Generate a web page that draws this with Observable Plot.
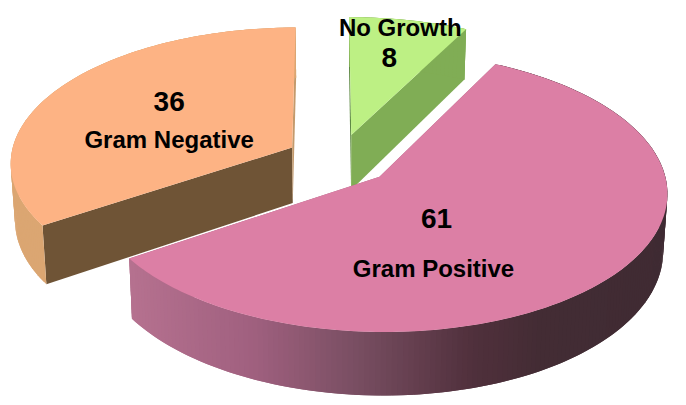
<!DOCTYPE html>
<html>
<head>
<meta charset="utf-8">
<script src="https://cdn.jsdelivr.net/npm/d3@7"></script>
<script src="https://cdn.jsdelivr.net/npm/@observablehq/plot@0.6"></script>
<style>html,body{margin:0;padding:0;background:#fff}svg{display:block}</style>
</head>
<body>
<div id="chart"></div>
<script>
const names = ["Gram Positive", "Gram Negative", "No Growth"];
const counts = [61, 36, 8];

const topColors = ["#dc7fa5", "#fdb384", "#bdf084"];
const startSide = ["#a5647f", "#6f5436", "#5f8a45"];
const endSide = ["#a5647f", "#c49a6c", "#80ad55"];
const rimStopsAt = [130, 250, 350, 470, 540, 670];
const pinkRim = ["#b5718f", "#a0607f", "#7a4f63", "#50303c", "#432c34", "#3f2b33"];
const rimColors = [null, "#dba672", "#80ad55"];

// 3D pie view
const view = {x0: 338.5, y0: 159, a: 282, b: 135, k: 0.105, depth: 56, shrink: 0.987, explode: 0.19, first: 27.2};
const rad = Math.PI / 180;
function project(u, v, low) {
  const w = 1 - view.k * v;
  let X = view.x0 + view.a * u / w;
  let Y = view.y0 + view.b * v / w;
  if (low) { X = view.x0 + (X - view.x0) * view.shrink; Y += view.depth / w; }
  return {x: X, y: Y};
}
const arcs = d3.pie().sort(null).startAngle(view.first * rad).endAngle((view.first + 360) * rad)(counts);
const pinkScale = d3.scaleLinear().domain(rimStopsAt).range(pinkRim).clamp(true);

const sides = [], walls = [], tops = [];
const apexes = [];
arcs.forEach((arc, i) => {
  const mid = (arc.startAngle + arc.endAngle) / 2;
  const cu = view.explode * Math.sin(mid), cv = -view.explode * Math.cos(mid);
  const rim = t => [cu + Math.sin(t), cv - Math.cos(t)];
  apexes.push(project(cu, cv, false));
  // radial faces
  [[arc.startAngle, startSide[i]], [arc.endAngle, endSide[i]]].forEach(([t, color], j) => {
    const [u, v] = rim(t), id = `s${i}${j}`;
    [project(cu, cv, false), project(u, v, false), project(u, v, true), project(cu, cv, true)]
      .forEach(p => sides.push({...p, id, color}));
  });
  // outer wall strips, each overlapping the next so no seams show
  const steps = Math.ceil((arc.endAngle - arc.startAngle) / rad);
  const span = arc.endAngle - arc.startAngle;
  for (let n = 0; n < steps; ++n) {
    const t0 = arc.startAngle + span * n / steps;
    const t1 = arc.startAngle + span * Math.min(n + 2, steps) / steps;
    const [u0, v0] = rim(t0), [u1, v1] = rim(t1);
    const a = project(u0, v0, false), b = project(u1, v1, false);
    const color = rimColors[i] || pinkScale((a.x + b.x) / 2);
    const id = `w${i}_${n}`;
    [a, b, project(u1, v1, true), project(u0, v0, true)].forEach(p => walls.push({...p, id, color}));
  }
  // top face
  const id = `t${i}`, color = topColors[i];
  tops.push({...project(cu, cv, false), id, color});
  for (let n = 0; n <= steps; ++n) {
    const [u, v] = rim(arc.startAngle + span * n / steps);
    tops.push({...project(u, v, false), id, color});
  }
});

const sliceMarks = id0 => {
  const pick = rows => rows.filter(d => d.id.slice(1, 2) === id0);
  return [
    Plot.line(pick(sides), {x: "x", y: "y", z: "id", fill: "color", stroke: "none"}),
    Plot.line(pick(walls), {x: "x", y: "y", z: "id", fill: "color", stroke: "none"}),
    Plot.line(pick(tops), {x: "x", y: "y", z: "id", fill: "color", stroke: "none"})
  ];
};

// label offsets from each slice's apex
const labelPlace = [
  {count: [57, 42], name: [54, 92]},
  {count: [-123, -46], name: [-123, -7]},
  {count: [38, -77], name: [49, -107]}
];
const labelStyle = {x: "x", y: "y", text: "t", fontWeight: "bold", fontFamily: "Liberation Sans, Arial, sans-serif", fill: "#000", textAnchor: "middle", lineAnchor: "middle"};
const labelMarks = counts.flatMap((c, i) => [
  Plot.text([{...apexes[i], t: String(c)}], {...labelStyle, dx: labelPlace[i].count[0], dy: labelPlace[i].count[1], fontSize: 28}),
  Plot.text([{...apexes[i], t: names[i]}], {...labelStyle, dx: labelPlace[i].name[0], dy: labelPlace[i].name[1], fontSize: 24})
]);

const chart = Plot.plot({
  width: 686, height: 405, margin: 0,
  x: {domain: [0, 686], range: [0, 686], axis: null},
  y: {domain: [0, 405], range: [0, 405], axis: null},
  color: {type: "identity"},
  marks: [
    ...sliceMarks("1"),
    ...sliceMarks("2"),
    ...sliceMarks("0"),
    ...labelMarks
  ]
});
document.getElementById("chart").appendChild(chart);
</script>
</body>
</html>
